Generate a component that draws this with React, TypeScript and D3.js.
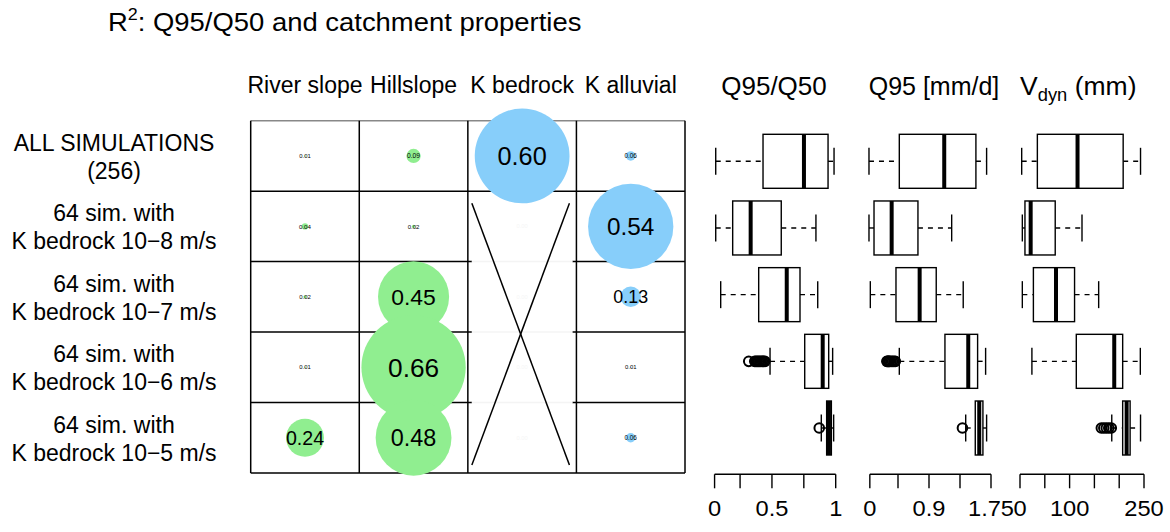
import React from 'react';
import * as d3 from 'd3';

// R² matrix (rows = simulation groups, columns = catchment properties)
const properties = ['River slope', 'Hillslope', 'K bedrock', 'K alluvial'];
const propColors = ['#90EE90', '#90EE90', '#87CEFA', '#87CEFA'];
const groupKeys = ['all', 'kb8', 'kb7', 'kb6', 'kb5'];
const groupLabels = [
  ['ALL SIMULATIONS', '(256)'],
  ['64 sim. with', 'K bedrock 10\u22128 m/s'],
  ['64 sim. with', 'K bedrock 10\u22127 m/s'],
  ['64 sim. with', 'K bedrock 10\u22126 m/s'],
  ['64 sim. with', 'K bedrock 10\u22125 m/s'],
];
const r2RiverSlope = [0.01, 0.04, 0.02, 0.01, 0.24];
const r2Hillslope = [0.09, 0.02, 0.45, 0.66, 0.48];
const r2KBedrock = [0.6, 0.0, 0.0, 0.0, 0.0];
const r2KAlluvial = [0.06, 0.54, 0.13, 0.01, 0.06];

// box stats: [lower whisker, Q1, median, Q3, upper whisker]
const q95q50Stats = [
  [0.059, 0.43, 0.751, 0.94, 0.987],
  [0.059, 0.192, 0.333, 0.573, 0.845],
  [0.098, 0.396, 0.616, 0.72, 0.859],
  [0.485, 0.757, 0.898, 0.945, 0.976],
  [0.887, 0.929, 0.947, 0.966, 0.984],
];
const q95q50Outliers = [
  [], [], [],
  [0.318, 0.365, 0.375, 0.385, 0.395, 0.405, 0.415, 0.425, 0.435, 0.445],
  [0.871],
];
const q95Stats = [
  [0.028, 0.456, 1.09, 1.537, 1.688],
  [0.028, 0.099, 0.348, 0.719, 1.195],
  [0.047, 0.409, 0.743, 0.977, 1.358],
  [0.456, 1.1, 1.429, 1.561, 1.674],
  [1.393, 1.528, 1.584, 1.636, 1.688],
];
const q95Outliers = [[], [], [], [0.28, 0.29, 0.3, 0.31, 0.32, 0.34, 0.36, 0.38, 0.4], [1.347]];
const vdynStats = [
  [3.4, 35, 116, 208, 243],
  [4.7, 10, 21.5, 71, 125],
  [4.7, 27, 72.6, 110, 158.6],
  [24, 113.5, 190, 207, 242.6],
  [185, 207, 215, 222, 243],
];
const vdynOutliers = [[], [], [], [], [164, 169, 174, 179, 184]];

const q95q50Ticks = [0.05, 0.25, 0.5, 0.75, 1];
const q95q50TickLabels = ['0', '', '0.5', '', '1'];
const q95Ticks = [0.04, 0.4375, 0.875, 1.3125, 1.75];
const q95TickLabels = ['0', '', '0.9', '', '1.75'];
const vdynTicks = [0, 50, 100, 150, 200, 250];
const vdynTickLabels = ['0', '', '100', '', '', '250'];

const FONT = '"Liberation Sans", Arial, Helvetica, sans-serif';

const SText = ({ x, y, size, sx = 1, anchor = 'middle', children }: any) => (
  <text
    transform={`translate(${x},${y}) scale(${sx},1)`}
    fontSize={size}
    textAnchor={anchor}
    fontFamily={FONT}
    fill="#000"
  >
    {children}
  </text>
);

const BoxPanel = ({ x, stats, outliers, ticks, tickLabels, y, header }: any) => {
  const boxH = 54;
  const axisY = 474.3;
  return (
    <g>
      {stats.map((s: number[], i: number) => {
        const cy = y(groupKeys[i])!;
        const [lo, q1, md, q3, hi] = s.map((v) => x(v));
        return (
          <g key={i}>
            <line x1={lo} x2={q1} y1={cy} y2={cy} stroke="#000" strokeWidth={1.4} strokeDasharray="5,5" />
            <line x1={q3} x2={hi} y1={cy} y2={cy} stroke="#000" strokeWidth={1.4} strokeDasharray="5,5" />
            <line x1={lo} x2={lo} y1={cy - boxH / 4} y2={cy + boxH / 4} stroke="#000" strokeWidth={1.4} />
            <line x1={hi} x2={hi} y1={cy - boxH / 4} y2={cy + boxH / 4} stroke="#000" strokeWidth={1.4} />
            <rect x={q1} y={cy - boxH / 2} width={q3 - q1} height={boxH} fill="#fff" stroke="#000" strokeWidth={1.4} />
            <line x1={md} x2={md} y1={cy - boxH / 2} y2={cy + boxH / 2} stroke="#000" strokeWidth={4} />
            {outliers[i].map((o: number, j: number) => (
              <circle key={j} cx={x(o)} cy={cy} r={4.8} fill="none" stroke="#000" strokeWidth={2} />
            ))}
          </g>
        );
      })}
      <line x1={x(ticks[0])} x2={x(ticks[ticks.length - 1])} y1={axisY} y2={axisY} stroke="#000" strokeWidth={1.4} />
      {ticks.map((t: number, i: number) => (
        <g key={i}>
          <line x1={x(t)} x2={x(t)} y1={axisY} y2={axisY + 14} stroke="#000" strokeWidth={1.4} />
          {tickLabels[i] && (
            <SText x={x(t)} y={516} size={21.5} sx={1.1}>
              {tickLabels[i]}
            </SText>
          )}
        </g>
      ))}
      {header}
    </g>
  );
};

export default function App() {
  const width = 1170;
  const height = 532;

  const gx = d3.scaleBand<string>().domain(properties).range([250.7, 685]).padding(0);
  const gy = d3.scaleBand<string>().domain(groupKeys).range([120.7, 473]).padding(0);
  const rScale = d3.scaleLinear().domain([0, 1]).range([0, 79]);
  const r2Columns = [r2RiverSlope, r2Hillslope, r2KBedrock, r2KAlluvial];

  const boxY = d3.scalePoint<string>().domain(groupKeys).range([161.3, 428]);
  const xQ95Q50 = d3.scaleLinear().domain([0, 1]).range([708.2, 835.7]);
  const xQ95 = d3.scaleLinear().domain([0, 1.75]).range([867, 991]);
  const xVdyn = d3.scaleLinear().domain([0, 250]).range([1020, 1144]);

  const bw = gx.bandwidth();
  const bh = gy.bandwidth();
  const kbX = gx('K bedrock')!;
  const gridTop = gy.range()[0];
  const gridBottom = gy.range()[1];
  const gridLeft = gx.range()[0];
  const gridRight = gx.range()[1];

  const cells: any[] = [];
  r2Columns.forEach((col, ci) => {
    col.forEach((v, ri) => {
      cells.push({
        v,
        ci,
        cx: gx(properties[ci])! + bw / 2,
        cy: gy(groupKeys[ri])! + bh / 2,
      });
    });
  });

  const labelSize = (v: number) => (v >= 0.1 ? 15.8 * (1 + v) : 5.8 + 10 * v);

  return (
    <div style={{ position: 'absolute', left: 0, top: 0 }}>
      <svg width={width} height={height} style={{ display: 'block', background: '#fff' }}>
        {/* title */}
        <text
          transform="translate(108,31) scale(1.055,1)"
          fontSize={26}
          fontFamily={FONT}
          fill="#000"
        >
          R<tspan fontSize={17} dy={-11}>2</tspan>
          <tspan dy={11}>: Q95/Q50 and catchment properties</tspan>
        </text>

        {/* column headers */}
        {properties.map((p) => (
          <SText key={p} x={gx(p)! + bw / 2} y={93} size={23} sx={1}>
            {p}
          </SText>
        ))}

        {/* row labels */}
        {groupLabels.map((lines, i) => {
          const cy = gy(groupKeys[i])! + bh / 2;
          return (
            <g key={i}>
              <SText x={114} y={cy - 5} size={23} sx={1}>
                {lines[0]}
              </SText>
              <SText x={114} y={cy + 23} size={23} sx={1}>
                {lines[1]}
              </SText>
            </g>
          );
        })}

        {/* grid */}
        {gy.domain().map((k, i) =>
          i === 0 ? null : (
            <line key={k} x1={gridLeft} x2={gridRight} y1={gy(k)} y2={gy(k)} stroke="#000" strokeWidth={1.5} />
          )
        )}
        <line x1={gridLeft} x2={gridRight} y1={gridTop} y2={gridTop} stroke="#888" strokeWidth={1.5} />
        <line x1={gridLeft} x2={gridRight} y1={gridBottom} y2={gridBottom} stroke="#000" strokeWidth={1.5} />
        {/* K bedrock constant within subsets: blank cells crossed out */}
        <rect x={kbX + 4} y={gy('kb8')! + 1} width={bw - 8} height={gridBottom - gy('kb8')! - 2} fill="#fff" />
        {['kb7', 'kb6', 'kb5'].map((k) => (
          <line key={k} x1={kbX + 4} x2={kbX + bw - 4} y1={gy(k)} y2={gy(k)} stroke="#f4f4f4" strokeWidth={1.5} />
        ))}
        {gx.domain().map((p) => (
          <line key={p} x1={gx(p)} x2={gx(p)} y1={gridTop} y2={gridBottom} stroke="#000" strokeWidth={1.5} />
        ))}
        <line x1={gridRight} x2={gridRight} y1={gridTop} y2={gridBottom} stroke="#000" strokeWidth={1.5} />
        <line x1={kbX + 4} x2={kbX + bw - 7} y1={gy('kb8')! + 12} y2={gridBottom - 8} stroke="#000" strokeWidth={1.5} />
        <line x1={kbX + bw - 7} x2={kbX + 4} y1={gy('kb8')! + 12} y2={gridBottom - 8} stroke="#000" strokeWidth={1.5} />

        {/* R² circles */}
        {cells.map((c, i) => (
          <circle key={i} cx={c.cx} cy={c.cy} r={rScale(c.v)} fill={propColors[c.ci]} />
        ))}
        {cells.map((c, i) => {
          const fs = labelSize(c.v);
          return (
            <text
              key={i}
              x={c.cx}
              y={c.cy + fs * 0.36}
              fontSize={fs}
              textAnchor="middle"
              fontFamily={FONT}
              fill={c.v === 0 ? '#f6f6f6' : '#000'}
            >
              {c.v.toFixed(2)}
            </text>
          );
        })}

        {/* box plots */}
        <BoxPanel
          x={xQ95Q50}
          y={boxY}
          stats={q95q50Stats}
          outliers={q95q50Outliers}
          ticks={q95q50Ticks}
          tickLabels={q95q50TickLabels}
          header={
            <SText x={774} y={95} size={26} sx={1.0}>
              Q95/Q50
            </SText>
          }
        />
        <BoxPanel
          x={xQ95}
          y={boxY}
          stats={q95Stats}
          outliers={q95Outliers}
          ticks={q95Ticks}
          tickLabels={q95TickLabels}
          header={
            <SText x={934} y={95} size={25} sx={1.0}>
              Q95 [mm/d]
            </SText>
          }
        />
        <BoxPanel
          x={xVdyn}
          y={boxY}
          stats={vdynStats}
          outliers={vdynOutliers}
          ticks={vdynTicks}
          tickLabels={vdynTickLabels}
          header={
            <text transform="translate(1020,95) scale(1.02,1)" fontSize={26} fontFamily={FONT} fill="#000">
              V<tspan fontSize={18} dy={6}>dyn</tspan>
              <tspan dy={-6}> (mm)</tspan>
            </text>
          }
        />
      </svg>
    </div>
  );
}
